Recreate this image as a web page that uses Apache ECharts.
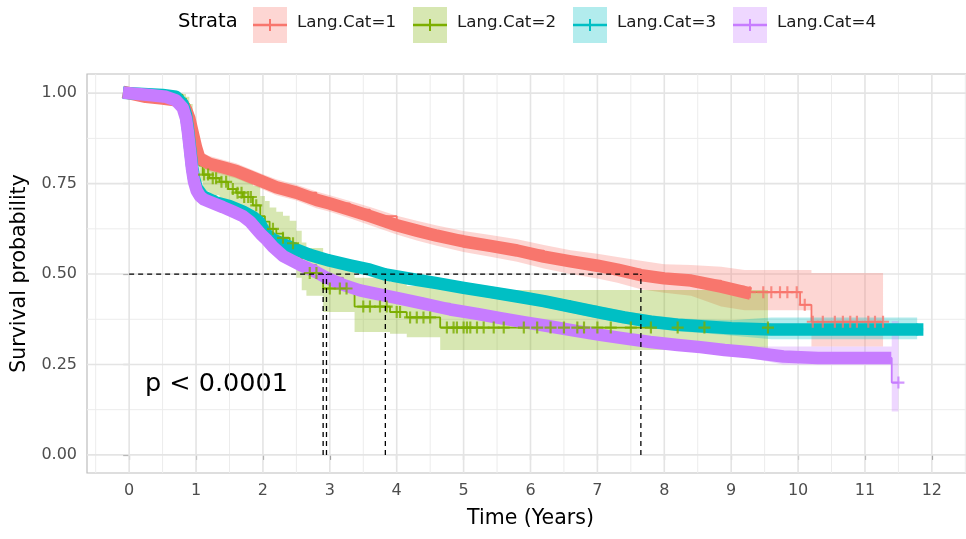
<!DOCTYPE html>
<html>
<head>
<meta charset="utf-8">
<title>Kaplan-Meier survival by Lang.Cat</title>
<script src="https://cdn.jsdelivr.net/npm/echarts@6/dist/echarts.min.js"></script>
<style>
  html, body { margin: 0; padding: 0; background: #ffffff; }
  #chart { width: 966px; height: 539px; }
</style>
</head>
<body>
<div id="chart"></div>
<script>
// ---- strata ----
const strata = ['Lang.Cat=1', 'Lang.Cat=2', 'Lang.Cat=3', 'Lang.Cat=4'];
const colors = ['#F8766D', '#7CAE00', '#00BFC4', '#C77CFF'];

// ---- Kaplan-Meier step points (time in years, survival, 95% CI) ----
const time1  = [0, 0.25, 0.5, 0.7, 0.8, 0.85, 0.9, 0.95, 1.0, 1.05, 1.2, 1.4, 1.6, 1.8, 2.0, 2.2, 2.5, 2.8, 3.0, 3.3, 3.6, 4.0, 4.3, 4.6, 5.0, 5.4, 5.8, 6.2, 6.6, 7.0, 7.3, 7.65, 8.0, 8.4, 8.85, 9.2, 10.03, 10.2, 11.27];
const surv1  = [1.0, 0.99, 0.985, 0.98, 0.97, 0.955, 0.93, 0.89, 0.85, 0.82, 0.805, 0.795, 0.785, 0.77, 0.755, 0.74, 0.725, 0.705, 0.695, 0.678, 0.66, 0.635, 0.62, 0.606, 0.59, 0.578, 0.565, 0.548, 0.535, 0.523, 0.512, 0.497, 0.488, 0.482, 0.465, 0.45, 0.415, 0.368, 0.368];
const upper1 = [1.0, 1.0, 0.993, 0.99, 0.98, 0.968, 0.945, 0.906, 0.868, 0.84, 0.826, 0.816, 0.806, 0.791, 0.776, 0.762, 0.747, 0.728, 0.718, 0.702, 0.685, 0.661, 0.647, 0.634, 0.619, 0.608, 0.596, 0.58, 0.566, 0.556, 0.547, 0.537, 0.527, 0.525, 0.52, 0.511, 0.511, 0.503, 0.503];
const lower1 = [1.0, 0.98, 0.976, 0.97, 0.958, 0.94, 0.914, 0.873, 0.831, 0.8, 0.784, 0.774, 0.764, 0.749, 0.734, 0.718, 0.703, 0.682, 0.672, 0.654, 0.635, 0.609, 0.593, 0.578, 0.561, 0.548, 0.534, 0.515, 0.5, 0.488, 0.476, 0.458, 0.448, 0.44, 0.41, 0.40, 0.40, 0.30, 0.30];
const censor1 = [9.28, 9.48, 9.6, 9.73, 9.84, 9.98, 10.1, 10.22, 10.37, 10.55, 10.67, 10.78, 10.88, 11.05, 11.15, 11.27];

const time2  = [0, 0.5, 0.8, 0.85, 0.9, 0.95, 1.0, 1.05, 1.1, 1.2, 1.35, 1.48, 1.6, 1.7, 1.85, 1.96, 2.03, 2.1, 2.2, 2.3, 2.4, 2.5, 2.58, 2.65, 2.9, 3.37, 3.9, 4.15, 4.65, 9.55];
const surv2  = [1.0, 0.995, 0.985, 0.97, 0.94, 0.89, 0.84, 0.80, 0.775, 0.765, 0.755, 0.735, 0.725, 0.713, 0.69, 0.66, 0.645, 0.625, 0.612, 0.6, 0.585, 0.555, 0.52, 0.503, 0.46, 0.41, 0.395, 0.38, 0.352, 0.352];
const upper2 = [1.0, 1.0, 0.998, 0.99, 0.97, 0.928, 0.882, 0.845, 0.822, 0.812, 0.803, 0.785, 0.776, 0.765, 0.744, 0.716, 0.702, 0.684, 0.672, 0.661, 0.647, 0.62, 0.587, 0.572, 0.53, 0.49, 0.478, 0.467, 0.456, 0.456];
const lower2 = [1.0, 0.985, 0.97, 0.948, 0.908, 0.852, 0.798, 0.755, 0.728, 0.718, 0.707, 0.685, 0.674, 0.661, 0.636, 0.604, 0.588, 0.566, 0.552, 0.539, 0.523, 0.49, 0.455, 0.44, 0.395, 0.34, 0.335, 0.325, 0.29, 0.29];
const censor2 = [1.12, 1.18, 1.25, 1.3, 1.38, 1.45, 1.55, 1.62, 1.68, 1.72, 1.78, 1.82, 1.9, 2.15, 2.3, 2.45, 2.7, 2.8, 3.0, 3.15, 3.25, 3.5, 3.6, 3.75, 3.85, 4.0, 4.05, 4.2, 4.3, 4.4, 4.5, 4.75, 4.85, 4.9, 5.0, 5.05, 5.1, 5.2, 5.3, 5.45, 5.6, 5.9, 6.1, 6.3, 6.5, 6.7, 6.8, 7.0, 7.2, 7.5, 7.8, 8.2, 8.6, 9.55];

const time3  = [0, 0.5, 0.7, 0.8, 0.85, 0.88, 0.91, 0.94, 0.97, 1.01, 1.1, 1.3, 1.5, 1.7, 1.85, 1.95, 2.0, 2.05, 2.15, 2.3, 2.5, 2.7, 3.0, 3.3, 3.6, 3.83, 4.2, 4.6, 5.0, 5.4, 5.8, 6.2, 6.6, 7.0, 7.4, 7.8, 8.2, 8.6, 9.0, 9.6, 11.78];
const surv3  = [1.0, 0.995, 0.99, 0.97, 0.94, 0.9, 0.85, 0.8, 0.765, 0.738, 0.715, 0.698, 0.688, 0.673, 0.658, 0.643, 0.625, 0.61, 0.596, 0.583, 0.568, 0.553, 0.537, 0.524, 0.512, 0.499, 0.487, 0.475, 0.462, 0.45, 0.438, 0.425, 0.41, 0.395, 0.38, 0.368, 0.36, 0.355, 0.35, 0.347, 0.347];
const upper3 = [1.0, 1.0, 0.996, 0.98, 0.952, 0.912, 0.862, 0.813, 0.778, 0.751, 0.728, 0.711, 0.701, 0.686, 0.672, 0.657, 0.639, 0.624, 0.61, 0.597, 0.583, 0.568, 0.552, 0.539, 0.527, 0.514, 0.502, 0.49, 0.477, 0.466, 0.454, 0.441, 0.427, 0.412, 0.397, 0.386, 0.378, 0.374, 0.372, 0.38, 0.38];
const lower3 = [1.0, 0.99, 0.984, 0.96, 0.928, 0.888, 0.838, 0.787, 0.752, 0.725, 0.702, 0.685, 0.675, 0.66, 0.644, 0.629, 0.611, 0.596, 0.582, 0.569, 0.553, 0.538, 0.522, 0.509, 0.497, 0.484, 0.472, 0.46, 0.447, 0.434, 0.422, 0.409, 0.393, 0.378, 0.363, 0.35, 0.342, 0.336, 0.33, 0.32, 0.32];
const censor3 = [11.78];

const time4  = [0, 0.3, 0.55, 0.7, 0.8, 0.85, 0.88, 0.91, 0.94, 0.97, 1.01, 1.06, 1.12, 1.2, 1.4, 1.56, 1.7, 1.81, 1.9, 1.97, 2.06, 2.15, 2.3, 2.56, 2.8, 2.95, 3.2, 3.45, 3.7, 4.05, 4.4, 4.8, 5.2, 5.55, 5.9, 6.3, 6.7, 7.04, 7.4, 7.79, 8.2, 8.54, 8.9, 9.28, 9.78, 10.3, 11.4, 11.5];
const surv4  = [1.0, 0.995, 0.99, 0.98, 0.96, 0.93, 0.89, 0.84, 0.79, 0.755, 0.73, 0.715, 0.706, 0.7, 0.685, 0.672, 0.66, 0.644, 0.625, 0.61, 0.594, 0.575, 0.55, 0.525, 0.505, 0.49, 0.47, 0.455, 0.445, 0.432, 0.418, 0.402, 0.39, 0.378, 0.367, 0.355, 0.342, 0.332, 0.322, 0.312, 0.304, 0.298, 0.29, 0.284, 0.272, 0.268, 0.2, 0.2];
const upper4 = [1.0, 1.0, 0.995, 0.987, 0.97, 0.941, 0.901, 0.852, 0.802, 0.767, 0.742, 0.727, 0.718, 0.712, 0.697, 0.684, 0.672, 0.656, 0.637, 0.622, 0.606, 0.587, 0.562, 0.537, 0.517, 0.502, 0.482, 0.467, 0.457, 0.444, 0.43, 0.414, 0.402, 0.39, 0.379, 0.367, 0.354, 0.345, 0.335, 0.325, 0.318, 0.312, 0.305, 0.3, 0.3, 0.3, 0.37, 0.37];
const lower4 = [1.0, 0.99, 0.985, 0.973, 0.95, 0.919, 0.879, 0.828, 0.778, 0.743, 0.718, 0.703, 0.694, 0.688, 0.673, 0.66, 0.648, 0.632, 0.613, 0.598, 0.582, 0.563, 0.538, 0.513, 0.493, 0.478, 0.458, 0.443, 0.433, 0.42, 0.406, 0.39, 0.378, 0.366, 0.355, 0.343, 0.33, 0.319, 0.309, 0.299, 0.29, 0.284, 0.275, 0.268, 0.25, 0.25, 0.12, 0.12];
const censor4 = [11.5];

// median survival times per stratum
const medians = [7.65, 2.90, 3.83, 2.95];
const medianLevel = 0.5;
const pValueText = 'p < 0.0001';

// ---- axes ----
const xTicks  = [0, 1, 2, 3, 4, 5, 6, 7, 8, 9, 10, 11, 12];
const xMinor  = [-0.5, 0.5, 1.5, 2.5, 3.5, 4.5, 5.5, 6.5, 7.5, 8.5, 9.5, 10.5, 11.5, 12.5];
const yTicks  = [0, 0.25, 0.5, 0.75, 1.0];
const yMinor  = [0.125, 0.375, 0.625, 0.875];

const X_MIN = -0.63, X_MAX = 12.63, Y_MIN = -0.05, Y_MAX = 1.053;
const FONT = 'DejaVu Sans';

// ---- helpers ----
// denseUntil: up to this time the censor marks overlap into a solid band
const curves = [
  { time: time1, surv: surv1, upper: upper1, lower: lower1, censor: censor1, denseUntil: 9.2 },
  { time: time2, surv: surv2, upper: upper2, lower: lower2, censor: censor2, denseUntil: 0 },
  { time: time3, surv: surv3, upper: upper3, lower: lower3, censor: censor3, denseUntil: 11.78 },
  { time: time4, surv: surv4, upper: upper4, lower: lower4, censor: censor4, denseUntil: 11.3 }
];

function survAt(c, t) {
  let v = c.surv[0];
  for (let k = 0; k < c.time.length; k++) {
    if (c.time[k] <= t + 1e-9) v = c.surv[k]; else break;
  }
  return v;
}
function rgba(hex, a) {
  const n = parseInt(hex.slice(1), 16);
  return 'rgba(' + ((n >> 16) & 255) + ',' + ((n >> 8) & 255) + ',' + (n & 255) + ',' + a + ')';
}
const PLUS = 'path://M4.1,0H5.9V4.1H10V5.9H5.9V10H4.1V5.9H0V4.1H4.1Z';

// ---- background grid lines ----
const gridLines = []
  .concat(xMinor.map(v => ({ dir: 'v', v: v, w: 1, c: '#ececec' })))
  .concat(yMinor.map(v => ({ dir: 'h', v: v, w: 1, c: '#ececec' })))
  .concat(xTicks.map(v => ({ dir: 'v', v: v, w: 1.6, c: '#e4e4e4' })))
  .concat(yTicks.map(v => ({ dir: 'h', v: v, w: 1.6, c: '#e4e4e4' })));

const series = [];

series.push({
  type: 'custom', coordinateSystem: 'cartesian2d', silent: true, z: 1,
  data: gridLines.map(g => g.dir === 'v' ? [g.v, 0.5] : [6, g.v]),
  renderItem: function (params, api) {
    const g = gridLines[params.dataIndex];
    const cs = params.coordSys;
    if (g.dir === 'v') {
      const x = api.coord([g.v, 0.5])[0];
      return { type: 'line', shape: { x1: x, y1: cs.y, x2: x, y2: cs.y + cs.height }, style: { stroke: g.c, lineWidth: g.w } };
    }
    const y = api.coord([6, g.v])[1];
    return { type: 'line', shape: { x1: cs.x, y1: y, x2: cs.x + cs.width, y2: y }, style: { stroke: g.c, lineWidth: g.w } };
  }
});

// survival step curves
curves.forEach((c, i) => {
  series.push({
    type: 'line', name: strata[i], step: 'end', silent: true, z: 3,
    showSymbol: false, symbol: 'none',
    data: c.time.map((t, k) => [t, c.surv[k]]),
    lineStyle: { color: colors[i], width: 1.8 }
  });
});

// confidence bands (translucent, over the curves); where events are dense the
// many tiny steps read as a smooth envelope
curves.forEach((c, i) => {
  series.push({
    type: 'custom', coordinateSystem: 'cartesian2d', silent: true, z: 4,
    data: [[c.time[0], c.surv[0]]],
    renderItem: function (params, api) {
      const n = c.time.length;
      const stepAt = k => (c.time[k + 1] > c.denseUntil || k === n - 2);
      const pts = [];
      for (let k = 0; k < n - 1; k++) {
        pts.push(api.coord([c.time[k], c.upper[k]]));
        if (stepAt(k)) pts.push(api.coord([c.time[k + 1], c.upper[k]]));
      }
      for (let k = n - 2; k >= 0; k--) {
        if (stepAt(k)) pts.push(api.coord([c.time[k + 1], c.lower[k]]));
        pts.push(api.coord([c.time[k], c.lower[k]]));
      }
      return { type: 'polygon', shape: { points: pts }, style: { fill: rgba(colors[i], 0.3) } };
    }
  });
});

// densely censored stretches: the overlapping "+" marks merge into a thick band
curves.forEach((c, i) => {
  if (!(c.denseUntil > 0)) return;
  const pts = c.time.filter(t => t <= c.denseUntil).map(t => [t, survAt(c, t)]);
  if (pts[pts.length - 1][0] < c.denseUntil) pts.push([c.denseUntil, survAt(c, c.denseUntil)]);
  series.push({
    type: 'line', silent: true, z: 5, showSymbol: false, symbol: 'none',
    data: pts,
    lineStyle: { color: colors[i], width: 12.5, cap: 'square', join: 'round' }
  });
});

// individual censor marks
curves.forEach((c, i) => {
  if (!c.censor.length) return;
  series.push({
    type: 'scatter', silent: true, z: 5,
    data: c.censor.map(t => [t, survAt(c, t)]),
    symbol: PLUS, symbolSize: 12,
    itemStyle: { color: colors[i] }
  });
});

// median survival guides
const dashed = { color: '#000', width: 1.3, type: [5, 4] };
series.push({
  type: 'line', silent: true, z: 6, showSymbol: false, symbol: 'none',
  data: [[0, medianLevel], [Math.max.apply(null, medians), medianLevel]],
  lineStyle: dashed
});
medians.forEach(m => {
  series.push({
    type: 'line', silent: true, z: 6, showSymbol: false, symbol: 'none',
    data: [[m, 0], [m, medianLevel]],
    lineStyle: dashed
  });
});

// ---- legend (top) and p-value ----
const graphics = [];
graphics.push({
  type: 'text', left: 178, top: 12,
  style: { text: 'Strata', font: '19.5px "' + FONT + '"', fill: '#000' }
});
strata.forEach((s, i) => {
  const kx = 253 + i * 160;
  graphics.push({ type: 'rect', shape: { x: kx, y: 7, width: 34, height: 36 }, style: { fill: rgba(colors[i], 0.3) } });
  graphics.push({ type: 'line', shape: { x1: kx, y1: 25, x2: kx + 34, y2: 25 }, style: { stroke: colors[i], lineWidth: 2.6 } });
  graphics.push({ type: 'line', shape: { x1: kx + 17, y1: 19, x2: kx + 17, y2: 31 }, style: { stroke: colors[i], lineWidth: 2 } });
  graphics.push({
    type: 'text', left: kx + 44, top: 14,
    style: { text: s, font: '16.7px "' + FONT + '"', fill: '#1a1a1a' }
  });
});
graphics.push({
  type: 'text', left: 145, top: 371,
  style: { text: pValueText, font: '25.5px "' + FONT + '"', fill: '#000' }
});

const option = {
  animation: false,
  backgroundColor: '#ffffff',
  grid: {
    left: 87, top: 74, right: -8, bottom: 66,
    show: true, borderColor: '#bdbdbd', borderWidth: 1.2, backgroundColor: 'transparent',
    containLabel: false, outerBoundsMode: 'none'
  },
  xAxis: {
    type: 'value', min: X_MIN, max: X_MAX,
    axisLine: { show: false },
    splitLine: { show: false },
    axisTick: { show: true, customValues: xTicks, length: 5, lineStyle: { color: '#333', width: 1.1 } },
    axisLabel: { customValues: xTicks, fontFamily: FONT, fontSize: 16, color: '#4d4d4d', margin: 10 },
    name: 'Time (Years)', nameLocation: 'middle', nameGap: 35,
    nameTextStyle: { fontFamily: FONT, fontSize: 20.5, color: '#000' }
  },
  yAxis: {
    type: 'value', min: Y_MIN, max: Y_MAX,
    axisLine: { show: false },
    splitLine: { show: false },
    axisTick: { show: true, customValues: yTicks, length: 6, lineStyle: { color: '#333', width: 1.1 } },
    axisLabel: {
      customValues: yTicks, fontFamily: FONT, fontSize: 16, color: '#4d4d4d', margin: 10,
      formatter: v => Number(v).toFixed(2)
    },
    name: 'Survival probability', nameLocation: 'middle', nameGap: 52,
    nameTextStyle: { fontFamily: FONT, fontSize: 20.5, color: '#000' }
  },
  graphic: graphics,
  series: series
};

const chart = echarts.init(document.getElementById('chart'));
chart.setOption(option);
</script>
</body>
</html>
